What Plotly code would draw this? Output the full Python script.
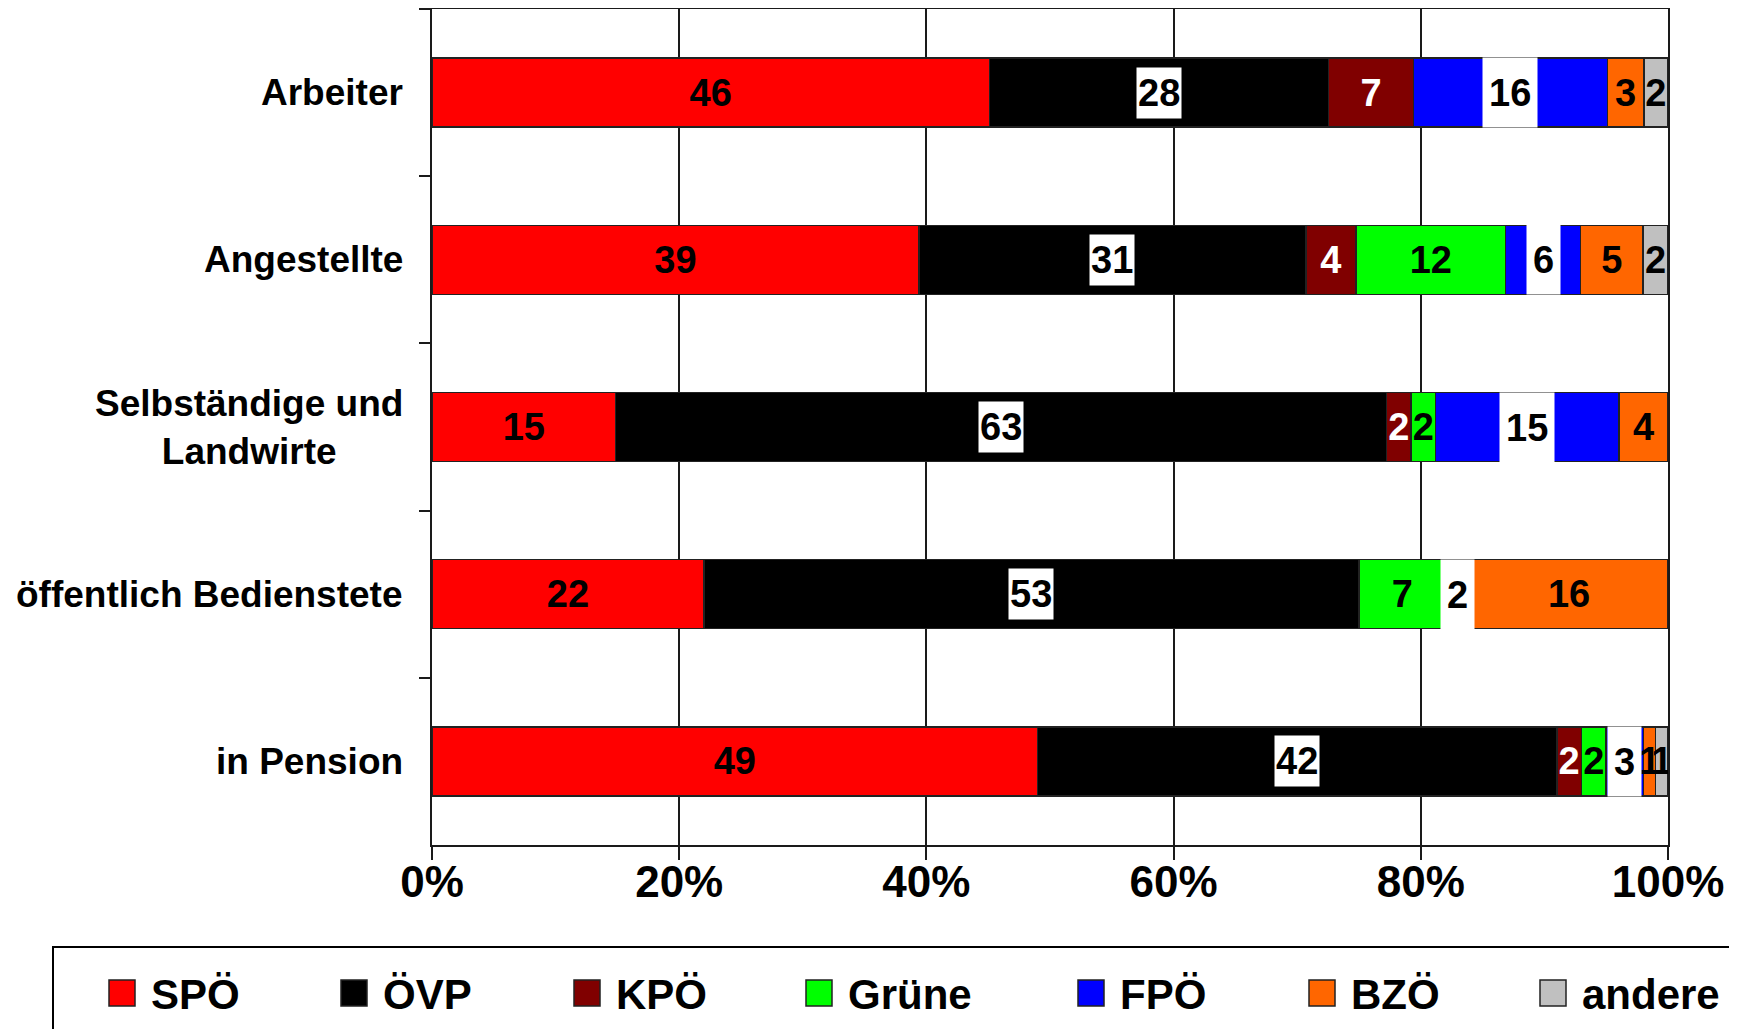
import plotly.graph_objects as go

# ---------------- data ----------------
categories = ["Arbeiter", "Angestellte", "Selbständige und<br>Landwirte",
              "öffentlich Bedienstete", "in Pension"]
parties = ["SPÖ", "ÖVP", "KPÖ", "Grüne", "FPÖ", "BZÖ", "andere"]

spoe   = [46, 39, 15, 22, 49]
oevp   = [28, 31, 63, 53, 42]
kpoe   = [7, 4, 2, 0, 2]
gruene = [0, 12, 2, 7, 2]
fpoe   = [16, 6, 15, 2, 3]
bzoe   = [3, 5, 4, 16, 1]
andere = [2, 2, 0, 0, 1]

series = [spoe, oevp, kpoe, gruene, fpoe, bzoe, andere]

# ---------------- style ----------------
colors = ["#FF0000", "#000000", "#800000", "#00FF00", "#0000FF", "#FF6600", "#C0C0C0"]
label_colors = ["black", "black", "white", "black", "black", "black", "black"]
boxed = ["ÖVP", "FPÖ"]          # labels drawn on white boxes
FONT = "Liberation Sans, Arial, Helvetica, sans-serif"

OFF = 8                          # page body margin
W, H = 1737 - OFF, 1029 - OFF
L, R, T, B = 432 - OFF, 1668 - OFF, 9 - OFF, 845 - OFF


def px2x(px):
    return (px - OFF - L) / (R - L)


def py2y(py):
    return (B - (py - OFF)) / (B - T)


fig = go.Figure()

for name, vals, col, tcol in zip(parties, series, colors, label_colors):
    txt = [("" if (v == 0 or name in boxed) else str(v)) for v in vals]
    fig.add_trace(go.Bar(
        name=name, y=categories, x=[v if v else None for v in vals],
        orientation="h",
        marker=dict(color=col, line=dict(color="#222222", width=1.5)),
        text=txt, texttemplate="%{text}",
        textposition="inside", insidetextanchor="middle",
        textangle=0, constraintext="none",
        textfont=dict(family=FONT, size=38, color=tcol, weight="bold"),
        showlegend=False, hoverinfo="skip",
    ))

annotations = []

# category labels (centred multi-line, right edge next to the axis)
for cat in categories:
    annotations.append(dict(x=0, y=cat, xref="paper", yref="y", xanchor="right",
                            yanchor="middle", xshift=-27, align="center",
                            text=cat, showarrow=False,
                            font=dict(family=FONT, size=37, color="black",
                                      weight="bold")))

# white-boxed labels for ÖVP and FPÖ, positioned at normalised segment centres
totals = [sum(s[i] for s in series) for i in range(len(categories))]
for pi, (name, vals) in enumerate(zip(parties, series)):
    if name not in boxed:
        continue
    for ci, cat in enumerate(categories):
        v = vals[ci]
        if not v:
            continue
        start = sum(series[k][ci] for k in range(pi))
        mid = (start + v / 2) / totals[ci] * 100
        if name == "FPÖ":
            pad, hgt = 6, 57
        else:
            pad, hgt = 1, 48
        annotations.append(dict(x=mid, y=cat, xref="x", yref="y", text=str(v),
                                showarrow=False, bgcolor="white", borderpad=pad,
                                height=hgt, valign="middle",
                                font=dict(family=FONT, size=38, color="black",
                                          weight="bold")))

# manual legend (large square keys like the original)
legend_x_px = [109, 341, 574, 806, 1078, 1309, 1540]
shapes = [dict(type="rect", xref="paper", yref="paper",
               x0=px2x(53), x1=px2x(1760), y0=py2y(947), y1=py2y(1070),
               line=dict(color="black", width=2), fillcolor="rgba(0,0,0,0)")]
for name, col, lx in zip(parties, colors, legend_x_px):
    shapes.append(dict(type="rect", xref="paper", yref="paper",
                       x0=px2x(lx), x1=px2x(lx + 26), y0=py2y(980), y1=py2y(1006),
                       line=dict(color="#222222", width=1.5), fillcolor=col))
    annotations.append(dict(x=px2x(lx + 40), y=py2y(994), xref="paper", yref="paper",
                            xanchor="left", yanchor="middle", text=name,
                            showarrow=False,
                            font=dict(family=FONT, size=42, color="black",
                                      weight="bold")))

fig.update_layout(
    barmode="stack", barnorm="percent", bargap=0.587,
    width=W, height=H,
    margin=dict(l=L, r=W - R, t=T, b=H - B, autoexpand=False),
    paper_bgcolor="white", plot_bgcolor="white",
    font=dict(family=FONT, color="black", weight="bold"),
    shapes=shapes, annotations=annotations,
    xaxis=dict(range=[0, 100], tickvals=[0, 20, 40, 60, 80, 100],
               ticktext=["0%", "20%", "40%", "60%", "80%", "100%"],
               showgrid=True, gridcolor="#1a1a1a", gridwidth=1.5,
               showline=True, linecolor="#1a1a1a", linewidth=1.5, mirror=True,
               ticks="outside", ticklen=13, tickwidth=1.5, tickcolor="#1a1a1a",
               tickfont=dict(family=FONT, size=44, color="black", weight="bold"),
               ticklabelstandoff=-16, zeroline=False, fixedrange=True),
    yaxis=dict(categoryorder="array", categoryarray=categories,
               autorange="reversed", tickson="boundaries",
               showgrid=False, showline=True, linecolor="#1a1a1a", linewidth=1.5,
               mirror=True, ticks="outside", ticklen=11, tickwidth=1.5,
               tickcolor="#1a1a1a", showticklabels=False, fixedrange=True),
)

fig.write_html("out.html")
